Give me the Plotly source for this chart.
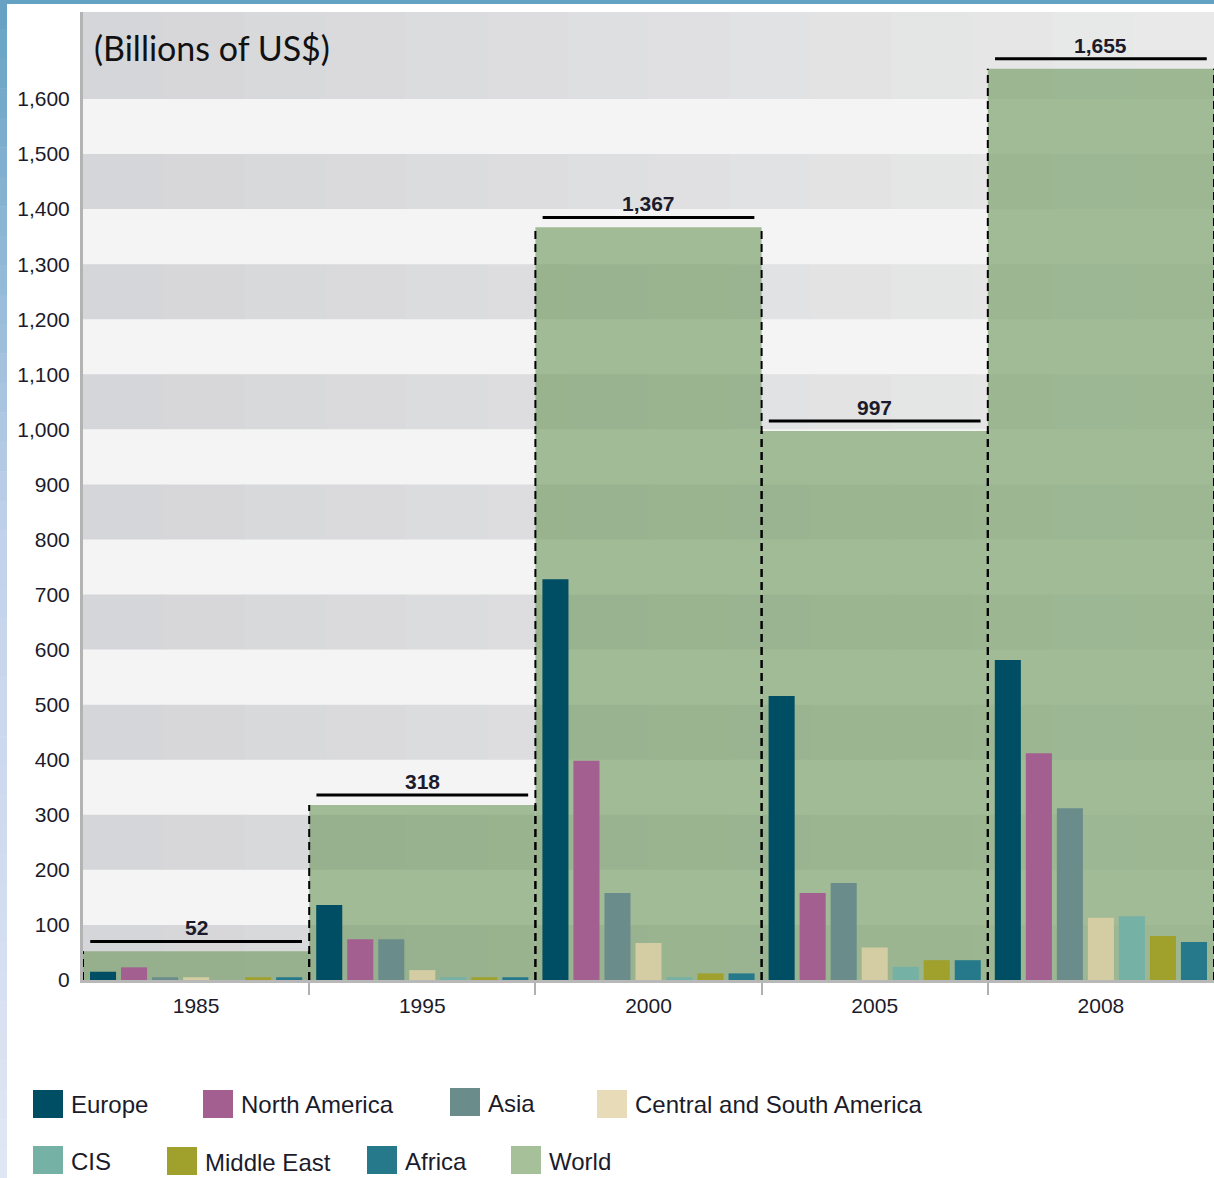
import plotly.graph_objects as go

# ---------------- data ----------------
years = ["1985", "1995", "2000", "2005", "2008"]
world = [52, 318, 1367, 997, 1655]
world_labels = ["52", "318", "1,367", "997", "1,655"]

regions = ["Europe", "North America", "Asia", "Central and South America",
           "CIS", "Middle East", "Africa"]
europe = [15, 136, 728, 516, 581]
north_america = [23, 74, 398, 158, 412]
asia = [5, 74, 158, 176, 312]
central_south_america = [5, 18, 67, 59, 113]
cis = [0, 5, 5, 24, 116]
middle_east = [5, 5, 12, 36, 80]
africa = [5, 5, 12, 36, 69]
region_values = [europe, north_america, asia, central_south_america,
                 cis, middle_east, africa]

region_colors = ["#004e63", "#a35f90", "#6a8d8c", "#d4cca2",
                 "#76b1a5", "#a0a02c", "#26798a"]
world_color = "rgba(112,153,96,0.63)"
world_swatch = "#a6c09a"

y_ticks = list(range(0, 1700, 100))
y_max = 1758

# ---------------- layout geometry (pixels) ----------------
W, H = 1214, 1178
ML, MR, MT, MB = 83, 0, 12, 198
PW, PH = W - ML - MR, H - MT - MB


def px(xp):
    return (xp - ML) / PW


def py(yp):
    return (H - MB - yp) / PH


xs = list(range(len(years)))
fig = go.Figure()

# World bars (behind)
fig.add_trace(go.Bar(x=xs, y=world, width=1, marker=dict(color=world_color, line=dict(width=0)),
                     name="World", xaxis="x", yaxis="y", showlegend=False, hoverinfo="y"))

# dashed edges of world bars
ex, ey = [], []
for i, v in zip(xs, world):
    for e in (i - 0.5, i + 0.5):
        ex += [e, e, None]
        ey += [0, v, None]
fig.add_trace(go.Scatter(x=ex, y=ey, mode="lines", xaxis="x", yaxis="y",
                         line=dict(color="black", width=2, dash="8px,5px"),
                         showlegend=False, hoverinfo="skip"))

# label lines above world bars
lx, ly = [], []
for i, v in zip(xs, world):
    lx += [i - 0.468, i + 0.468, None]
    ly += [v + 18, v + 18, None]
fig.add_trace(go.Scatter(x=lx, y=ly, mode="lines", xaxis="x", yaxis="y",
                         line=dict(color="black", width=3),
                         showlegend=False, hoverinfo="skip"))

# regional grouped bars (on overlaying axis, drawn on top)
for name, vals, col in zip(regions, region_values, region_colors):
    fig.add_trace(go.Bar(x=xs, y=vals, name=name, xaxis="x2", yaxis="y",
                         marker=dict(color=col, line=dict(width=0)), showlegend=False))

shapes = []
# background bands (gray with horizontal gradient)
N = 14
c0, c1 = (213, 214, 217), (233, 233, 233)
for k in range(0, 18, 2):
    y0 = k * 100
    y1 = (k + 1) * 100 if k < 16 else y_max
    for s in range(N):
        t = s / (N - 1)
        c = tuple(round(a + (b - a) * t) for a, b in zip(c0, c1))
        shapes.append(dict(type="rect", xref="paper", yref="y", x0=s / N, x1=(s + 1) / N + 0.001,
                           y0=y0, y1=y1, fillcolor="rgb(%d,%d,%d)" % c,
                           line=dict(width=0), layer="below"))

# page decoration: blue top line and left gradient strip
shapes.append(dict(type="rect", xref="paper", yref="paper", x0=px(0), x1=px(W), y0=py(0), y1=py(4),
                   fillcolor="#64a2c3", line=dict(width=0), layer="above"))
strip = [(0, (100, 161, 195)), (550, (195, 210, 236)), (1178, (224, 230, 244))]
M = 40
for j in range(M):
    ya, yb = H * j / M, H * (j + 1) / M
    ym = (ya + yb) / 2
    for (a, ca), (b, cb) in zip(strip[:-1], strip[1:]):
        if a <= ym <= b:
            t = (ym - a) / (b - a)
            c = tuple(round(p + (q - p) * t) for p, q in zip(ca, cb))
    shapes.append(dict(type="rect", xref="paper", yref="paper", x0=px(0), x1=px(7),
                       y0=py(yb + 0.5), y1=py(ya), fillcolor="rgb(%d,%d,%d)" % c,
                       line=dict(width=0), layer="above"))

annotations = []
# value labels
for i, v, lab in zip(xs, world, world_labels):
    annotations.append(dict(x=i, y=v + 18, xref="x", yref="y", text="<b>%s</b>" % lab,
                            showarrow=False, yanchor="bottom", yshift=0,
                            font=dict(family="Liberation Sans, Arial", size=21, color="#1b1b2b")))

annotations.append(dict(x=px(92), y=py(48), xref="paper", yref="paper", text="(Billions of US$)",
                        showarrow=False, xanchor="left", yanchor="middle",
                        font=dict(family="Lato, Open Sans", size=34, color="#111111")))

# custom legend
legend_names = regions + ["World"]
legend_colors = region_colors[:3] + ["#e8dcb8"] + region_colors[4:] + [world_swatch]
legend_pos = [(33, 1104), (203, 1104), (450, 1102), (597, 1104),
              (33, 1160), (167, 1161), (367, 1160), (511, 1160)]
for name, col, (x0, yc) in zip(legend_names, legend_colors, legend_pos):
    shapes.append(dict(type="rect", xref="paper", yref="paper", x0=px(x0), x1=px(x0 + 30),
                       y0=py(yc + 14), y1=py(yc - 14), fillcolor=col, line=dict(width=0)))
    annotations.append(dict(x=px(x0 + 36), y=py(yc + 1), xref="paper", yref="paper", text=name,
                            showarrow=False, xanchor="left", yanchor="middle",
                            font=dict(family="Liberation Sans, Arial", size=24, color="#1b1b2b")))

fig.update_layout(
    width=W, height=H,
    margin=dict(l=ML, r=MR, t=MT, b=MB, pad=0),
    paper_bgcolor="white", plot_bgcolor="#f4f4f4",
    barmode="group", bargap=0.04, bargroupgap=0.16,
    showlegend=False,
    shapes=shapes, annotations=annotations,
    xaxis=dict(range=[-0.5, 4.5], tickvals=xs, ticktext=years, ticks="",
               showgrid=False, zeroline=False, showline=True, linecolor="#b8b8b8", linewidth=3,
               ticklabelstandoff=5,
               tickfont=dict(family="Liberation Sans, Arial", size=21, color="#1b1b2b"),
               minor=dict(tickmode="array", tickvals=[0.5, 1.5, 2.5, 3.5], ticks="outside",
                          ticklen=12, tickwidth=2, tickcolor="#b0b0b0", showgrid=False)),
    xaxis2=dict(range=[-0.5, 4.5], overlaying="x", visible=False, showgrid=False),
    yaxis=dict(range=[0, y_max], tickvals=y_ticks, ticktext=[f"{v:,}" for v in y_ticks],
               ticks="", showgrid=False, zeroline=False, showline=True,
               linecolor="#b3b3b3", linewidth=3, ticklabelstandoff=6,
               tickfont=dict(family="Liberation Sans, Arial", size=21, color="#1b1b2b")),
)

fig.write_html("out.html")
